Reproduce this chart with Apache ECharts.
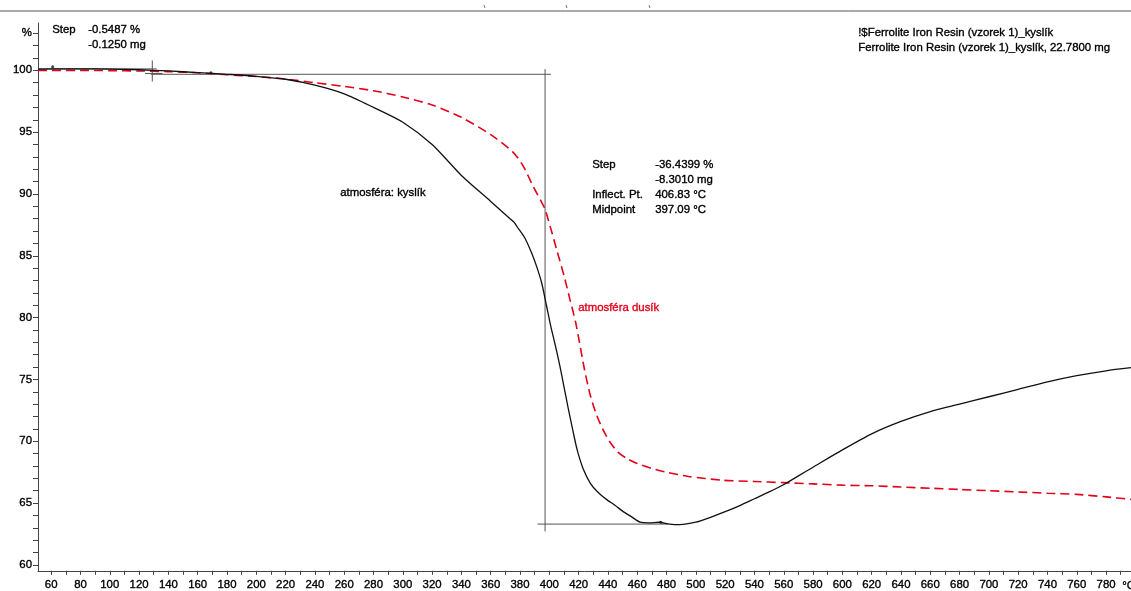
<!DOCTYPE html>
<html>
<head>
<meta charset="utf-8">
<script src="https://cdn.jsdelivr.net/npm/echarts@6/dist/echarts.min.js"></script>
<style>
  html, body { margin: 0; padding: 0; background: #fff; }
  #tga { width: 1131px; height: 591px; }
</style>
</head>
<body>
<div id="tga"></div>
<script>
// teplota (°C) a hmotnost (%) - kyslík
const kyslikT = [51, 60, 80, 100, 120, 140, 160, 180, 200, 220, 240, 260, 280, 300, 320, 340, 360, 373, 376,
  378, 383, 388, 392, 395, 398, 401, 404, 407, 410, 413, 416, 419, 423, 428, 433, 439, 445, 450, 456, 462,
  468, 475, 482, 489, 500, 510, 520, 530, 540, 550, 560, 570, 580, 600, 620, 640, 660, 680, 700, 720,
  740, 760, 780, 797];
const kyslikVal = [100.1, 100.12, 100.12, 100.1, 100.05, 99.95, 99.82, 99.68, 99.52, 99.28, 98.8, 98.1,
  97.0, 95.8, 94.0, 91.5, 89.4, 88.02, 87.7, 87.35, 86.5, 85.2, 83.9, 82.7, 81.0, 79.3, 77.8, 76.2, 74.4,
  72.6, 70.9, 69.3, 67.8, 66.6, 65.9, 65.3, 64.8, 64.35, 63.9, 63.45, 63.4, 63.45, 63.3, 63.25, 63.45,
  63.85, 64.3, 64.8, 65.35, 65.9, 66.5, 67.2, 67.9, 69.3, 70.6, 71.6, 72.4, 73.0, 73.6, 74.2, 74.8, 75.3,
  75.7, 75.95];

// dusík
const dusikT = [51, 60, 80, 100, 120, 140, 160, 180, 200, 220, 240, 260, 280, 300, 320, 340, 360, 375,
  382, 389, 394, 397, 401, 405, 410, 414, 418, 424, 428, 432, 436, 441, 447, 453, 460, 470, 480, 495,
  518, 540, 560, 580, 600, 620, 640, 660, 680, 700, 720, 740, 760, 780, 797];
const dusikVal = [100.0, 100.0, 100.0, 99.98, 99.95, 99.9, 99.8, 99.65, 99.5, 99.3, 99.0, 98.7, 98.35,
  97.85, 97.2, 96.2, 94.8, 93.4, 92.3, 90.6, 89.5, 88.8, 87.2, 85.5, 83.4, 81.5, 79.6, 75.8, 73.7, 72.2,
  71.1, 70.0, 69.1, 68.6, 68.2, 67.8, 67.5, 67.15, 66.85, 66.75, 66.65, 66.55, 66.45, 66.4, 66.3, 66.2,
  66.1, 66.0, 65.9, 65.8, 65.7, 65.5, 65.3];

// vyhodnocení kroků (šedé čáry)
const stepTop1 = [[51, 100.12], [132, 100.12]];
const stepCross = [[129, 100.8], [129, 99.1]];
const stepCrossH = [[124, 99.75], [136, 99.75]];
const stepTop2 = [[128, 99.68], [401, 99.68]];
const stepMid = [[397.09, 100.1], [397.09, 62.7]];
const stepBottom = [[392, 63.3], [481, 63.3]];
const marks = [[61, 100.3], [169, 99.8], [476, 63.45]];

const xTicks = [];
for (let t = 60; t <= 780; t += 20) xTicks.push(t);
const xMinor = [];
for (let t = 60; t <= 790; t += 10) xMinor.push(t);
const yTicks = [60, 65, 70, 75, 80, 85, 90, 95, 100, 103];
const yMinor = [];
for (let v = 60; v <= 103; v += 1) yMinor.push(v);

const font = '"Liberation Sans", Arial, sans-serif';
const zip = (a, b) => a.map((t, i) => [t, b[i]]);

const chart = echarts.init(document.getElementById('tga'));

const grayLine = (data) => ({
  type: 'line', data: data, symbol: 'none', silent: true, z: 1,
  lineStyle: { color: '#555', width: 1 },
});

const txt = (x, y, s, color) => ({
  type: 'text', left: x, top: y - 7,
  style: {
    text: s, fill: color || '#000', font: '11.4px ' + font,
    stroke: color || '#000', lineWidth: 0.35,
  },
});

const option = {
  animation: false,
  backgroundColor: '#fff',
  grid: { left: 38, right: 0, top: 23, bottom: 19 },
  xAxis: {
    type: 'value', min: 51, max: 797,
    axisLine: { onZero: false, lineStyle: { color: '#444', width: 1 } },
    axisTick: { customValues: xMinor, length: 4, lineStyle: { color: '#444' } },
    axisLabel: {
      customValues: xTicks, margin: 9, color: '#000', fontSize: 11.4, fontFamily: font,
      textBorderColor: '#000', textBorderWidth: 0.35,
    },
    splitLine: { show: false },
  },
  yAxis: {
    type: 'value', min: 59.52, max: 103.83,
    axisLine: { show: true, lineStyle: { color: '#444', width: 1 } },
    axisTick: { show: true, customValues: yMinor, length: 5, lineStyle: { color: '#444' } },
    axisLabel: {
      customValues: yTicks, margin: 6, color: '#000', fontSize: 11.4, fontFamily: font,
      textBorderColor: '#000', textBorderWidth: 0.35,
      formatter: (v) => (v === 103 ? '%' : String(v)),
    },
    splitLine: { show: false },
  },
  series: [
    grayLine(stepTop1), grayLine(stepCross), grayLine(stepCrossH),
    grayLine(stepTop2), grayLine(stepMid), grayLine(stepBottom),
    {
      name: 'dusík', type: 'line', data: zip(dusikT, dusikVal), symbol: 'none', z: 3, smooth: 0.25,
      lineStyle: { color: '#e3001b', width: 1.6, type: [9, 5] },
    },
    {
      name: 'kyslík', type: 'line', data: zip(kyslikT, kyslikVal), symbol: 'none', z: 4, smooth: 0.25,
      lineStyle: { color: '#111', width: 1.3 },
    },
    {
      type: 'scatter', data: marks, symbolSize: 3, z: 5,
      itemStyle: { color: '#111' },
    },
  ],
  graphic: [
    { type: 'line', shape: { x1: 0, y1: 11, x2: 1131, y2: 11 }, style: { stroke: '#555', lineWidth: 1 } },
    { type: 'line', shape: { x1: 484, y1: 5, x2: 485, y2: 8 }, style: { stroke: '#777', lineWidth: 1 } },
    { type: 'line', shape: { x1: 566, y1: 5, x2: 567, y2: 8 }, style: { stroke: '#777', lineWidth: 1 } },
    { type: 'line', shape: { x1: 649, y1: 5, x2: 650, y2: 8 }, style: { stroke: '#777', lineWidth: 1 } },
    txt(52, 31, 'Step'),
    txt(88, 31, '-0.5487 %'),
    txt(88, 46, '-0.1250 mg'),
    txt(858, 34, '!$Ferrolite Iron Resin (vzorek 1)_kyslík'),
    txt(858, 49, 'Ferrolite Iron Resin (vzorek 1)_kyslík, 22.7800 mg'),
    txt(592, 166, 'Step'),
    txt(655, 166, '-36.4399 %'),
    txt(655, 181, '-8.3010 mg'),
    txt(592, 196, 'Inflect. Pt.'),
    txt(655, 196, '406.83 °C'),
    txt(592, 211, 'Midpoint'),
    txt(655, 211, '397.09 °C'),
    txt(340, 194, 'atmosféra: kyslík'),
    txt(578, 309, 'atmosféra dusík', '#e3001b'),
    txt(1122, 587, '°C'),
  ],
};

chart.setOption(option);
</script>
</body>
</html>
